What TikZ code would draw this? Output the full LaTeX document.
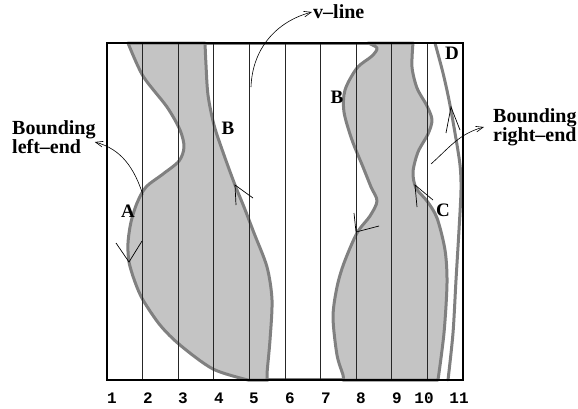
\documentclass[tikz,border=0pt]{standalone}
\usepackage{fontspec}
\setmainfont{Liberation Serif}
\setmonofont{Liberation Mono}
\usetikzlibrary{arrows.meta,positioning,calc}

\begin{document}
\begin{tikzpicture}[
  x=1pt,y=1pt,
  shd/.style={fill=black!23,draw=black!50,line width=3pt,line join=round},
  bnd/.style={draw=black!50,line width=3pt,line cap=round},
  vln/.style={draw=black!85,line width=0.9pt},
  frame/.style={draw,line width=1.5pt},
  chev/.style={draw,line width=0.7pt},
  lbl/.style={font=\bfseries\fontsize{19}{19}\selectfont,inner sep=0pt},
  note/.style={font=\bfseries\fontsize{20}{18}\selectfont,align=left,inner sep=1pt},
  num/.style={font=\ttfamily\bfseries\fontsize{16}{16}\selectfont,inner sep=0pt},
  arr/.style={-{Straight Barb[length=2.6mm,width=2mm]},line width=0.6pt}
]
\useasboundingbox (0,0) rectangle (578,-408);
% ---------- shaded parts ----------
\filldraw[shd] plot[smooth] coordinates {(128,-43) (143,-76) (167,-107) (180,-130) (184,-147)
  (179,-161) (163,-174) (146,-187) (137,-203) (131,-222) (128,-243) (129,-262) (135,-282)
  (143,-300) (160,-325) (180,-345) (213,-369) (248,-380)}
  -- plot[smooth] coordinates {(268,-380) (267,-374) (270,-340) (272,-300) (267,-267)
  (254,-233) (244,-207) (235,-185) (224,-155) (214,-125) (208,-95) (206,-65) (205,-43)}
  -- cycle;
\filldraw[shd] plot[smooth] coordinates {(343,-380) (343,-375) (337,-355) (333,-317) (337,-287)
  (344,-263) (357,-233) (370,-216) (377,-201) (371,-187) (363,-167) (352,-140) (344,-112)
  (345,-90) (357,-68) (372,-56) (377,-48) (368,-43)}
  -- (413,-43)
  -- plot[smooth] coordinates {(413,-43) (412,-67) (417,-88) (427,-106) (432,-120) (428,-134)
  (418,-152) (413,-172) (416,-188) (427,-201) (437,-218) (445,-250) (447,-283) (444,-333)
  (438,-380)}
  -- cycle;
\draw[bnd] (205,-43.5) -- (368,-43.5);
\draw[bnd] (268,-379) -- (343,-379);
% ---------- v-lines ----------
\foreach \i in {1,...,9}
  \draw[vln] (107+35.6*\i,-43) -- ++(0,-337);
% right bound
\draw[bnd] plot[smooth] coordinates {(435,-43) (443,-73) (449,-100) (455,-133) (460,-165)
  (461,-190) (459,-230) (456,-280) (453,-333) (448,-380)};
\draw[frame] (107,-43) rectangle (463,-380);
% ---------- direction marks ----------
\draw[chev] (116,-243) -- (129,-262) -- (142,-241);
\draw[chev] (236,-205) -- (235,-185) -- (253,-198);
\draw[chev] (354,-213) -- (356,-232) -- (379,-226);
\draw[chev] (417,-207) -- (415,-185) -- (433,-200);
\draw[chev] (446,-133) -- (451,-107) -- (460,-130);
% ---------- letters ----------
\node[lbl] (lA) at (128,-211) {A};
\node[lbl] (lB1) at (228,-128) {B};
\node[lbl] (lB2) at (337,-97) {B};
\node[lbl] (lC) at (443,-210) {C};
\node[lbl] (lD) at (452,-53) {D};
% ---------- column numbers ----------
\foreach \x/\t in {112/1,148/2,183/3,219/4,254/5,290/6,326/7,361/8,397/9,424/10,459/11}
  \node[num] (n\t) at (\x,-398) {\t};
% ---------- annotations ----------
\node[note,anchor=west] (vl) at (312,-12) {v--line};
\node[note,anchor=west] (lend) at (11,-137) {Bounding\\left--end};
\node[note,anchor=west] (rend) at (492,-127) {Bounding\\right--end};
\coordinate (pv) at (251,-87);
\coordinate (pl) at (143,-195);
\coordinate (pr) at (431,-164);
\draw[arr] (pv) to[out=88,in=195] (vl.west);
\draw[arr] (pl) to[out=108,in=-15] ($(lend.east)+(-2,-5)$);
\draw[arr] (pr) to[out=42,in=195] ($(rend.west)+(-8,0)$);
\end{tikzpicture}
\end{document}
